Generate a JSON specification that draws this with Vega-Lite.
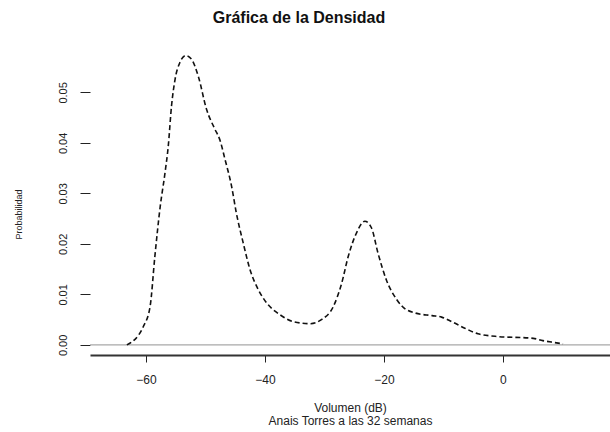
{
  "$schema": "https://vega.github.io/schema/vega-lite/v6.json",
  "autosize": "none",
  "width": 520,
  "height": 303,
  "padding": {"left": 90, "top": 52, "right": 0, "bottom": 77},
  "background": "white",
  "title": {
    "text": "Gráfica de la Densidad",
    "font": "Liberation Sans",
    "fontSize": 16,
    "fontWeight": "bold",
    "color": "#111",
    "anchor": "middle",
    "dx": -51,
    "offset": 26
  },
  "config": {
    "view": {"stroke": null},
    "axis": {
      "labelFont": "Liberation Sans",
      "titleFont": "Liberation Sans",
      "labelColor": "#222",
      "titleColor": "#222",
      "grid": false
    }
  },
  "datasets": {
    "densidad": [
      {"volumen": -63.2, "densidad": 0.0},
      {"volumen": -60.45, "densidad": 0.0036},
      {"volumen": -59.3, "densidad": 0.0076},
      {"volumen": -58.5, "densidad": 0.0175},
      {"volumen": -57.6, "densidad": 0.0274},
      {"volumen": -56.8, "densidad": 0.034},
      {"volumen": -56.25, "densidad": 0.0393},
      {"volumen": -55.7, "densidad": 0.0473},
      {"volumen": -55.1, "densidad": 0.0526},
      {"volumen": -54.3, "densidad": 0.0559},
      {"volumen": -53.3, "densidad": 0.0573},
      {"volumen": -52.3, "densidad": 0.0565},
      {"volumen": -51.2, "densidad": 0.0532},
      {"volumen": -49.8, "densidad": 0.0466},
      {"volumen": -48.4, "densidad": 0.0427},
      {"volumen": -47.6, "densidad": 0.0407},
      {"volumen": -46.7, "densidad": 0.0367},
      {"volumen": -45.6, "densidad": 0.0314},
      {"volumen": -44.8, "densidad": 0.0261},
      {"volumen": -43.65, "densidad": 0.0202},
      {"volumen": -42.5, "densidad": 0.0149},
      {"volumen": -41.1, "densidad": 0.0109},
      {"volumen": -39.7, "densidad": 0.0083},
      {"volumen": -37.5, "densidad": 0.006},
      {"volumen": -35.2, "densidad": 0.0046},
      {"volumen": -32.4, "densidad": 0.0042},
      {"volumen": -30.5, "densidad": 0.005},
      {"volumen": -28.5, "densidad": 0.0076},
      {"volumen": -27.1, "densidad": 0.0122},
      {"volumen": -26.0, "densidad": 0.0175},
      {"volumen": -24.6, "densidad": 0.0222},
      {"volumen": -23.2, "densidad": 0.0245},
      {"volumen": -22.1, "densidad": 0.0232},
      {"volumen": -21.0, "densidad": 0.0182},
      {"volumen": -19.6, "densidad": 0.0129},
      {"volumen": -17.8, "densidad": 0.0089},
      {"volumen": -16.9, "densidad": 0.0076},
      {"volumen": -14.7, "densidad": 0.0063},
      {"volumen": -11.9, "densidad": 0.0058},
      {"volumen": -10.3, "densidad": 0.0055},
      {"volumen": -8.6, "densidad": 0.0046},
      {"volumen": -6.4, "densidad": 0.0033},
      {"volumen": -4.2, "densidad": 0.0022},
      {"volumen": -1.3, "densidad": 0.0017},
      {"volumen": 5.1, "densidad": 0.0013},
      {"volumen": 6.7, "densidad": 0.00085},
      {"volumen": 8.7, "densidad": 0.00046},
      {"volumen": 10.1, "densidad": 0.0002}
    ],
    "cero": [{"nivel": 0}]
  },
  "layer": [
    {
      "data": {"name": "cero"},
      "mark": {"type": "rule", "color": "#a8a8a8", "strokeWidth": 1.3},
      "encoding": {
        "y": {"field": "nivel", "type": "quantitative", "scale": {"domain": [-0.002, 0.058], "nice": false, "zero": false}}
      }
    },
    {
      "data": {"name": "densidad"},
      "mark": {"type": "line", "color": "#111", "strokeWidth": 1.6, "strokeDash": [5, 3], "interpolate": "monotone"},
      "encoding": {
        "x": {
          "field": "volumen",
          "type": "quantitative",
          "scale": {"domain": [-69.4, 18], "nice": false, "zero": false},
          "axis": {
            "values": [-60, -40, -20, 0],
            "title": ["Volumen (dB)", "Anais Torres a las 32 semanas"],
            "titleFontSize": 12,
            "titleFontWeight": "normal",
            "titleLineHeight": 13,
            "titlePadding": 17,
            "labelFontSize": 12,
            "labelPadding": 12,
            "tickSize": 7,
            "tickColor": "#222",
            "domainColor": "#333",
            "domainWidth": 2
          }
        },
        "y": {
          "field": "densidad",
          "type": "quantitative",
          "scale": {"domain": [-0.002, 0.058], "nice": false, "zero": false},
          "axis": {
            "values": [0, 0.01, 0.02, 0.03, 0.04, 0.05],
            "format": ".2f",
            "title": "Probabilidad",
            "titleFontSize": 9,
            "titleFontWeight": "normal",
            "titlePadding": 34,
            "titleY": 162,
            "labelAngle": -90,
            "labelAlign": "center",
            "labelBaseline": "bottom",
            "labelFontSize": 11,
            "labelPadding": 12,
            "tickSize": 10,
            "tickColor": "#222",
            "domain": false
          }
        }
      }
    }
  ]
}
